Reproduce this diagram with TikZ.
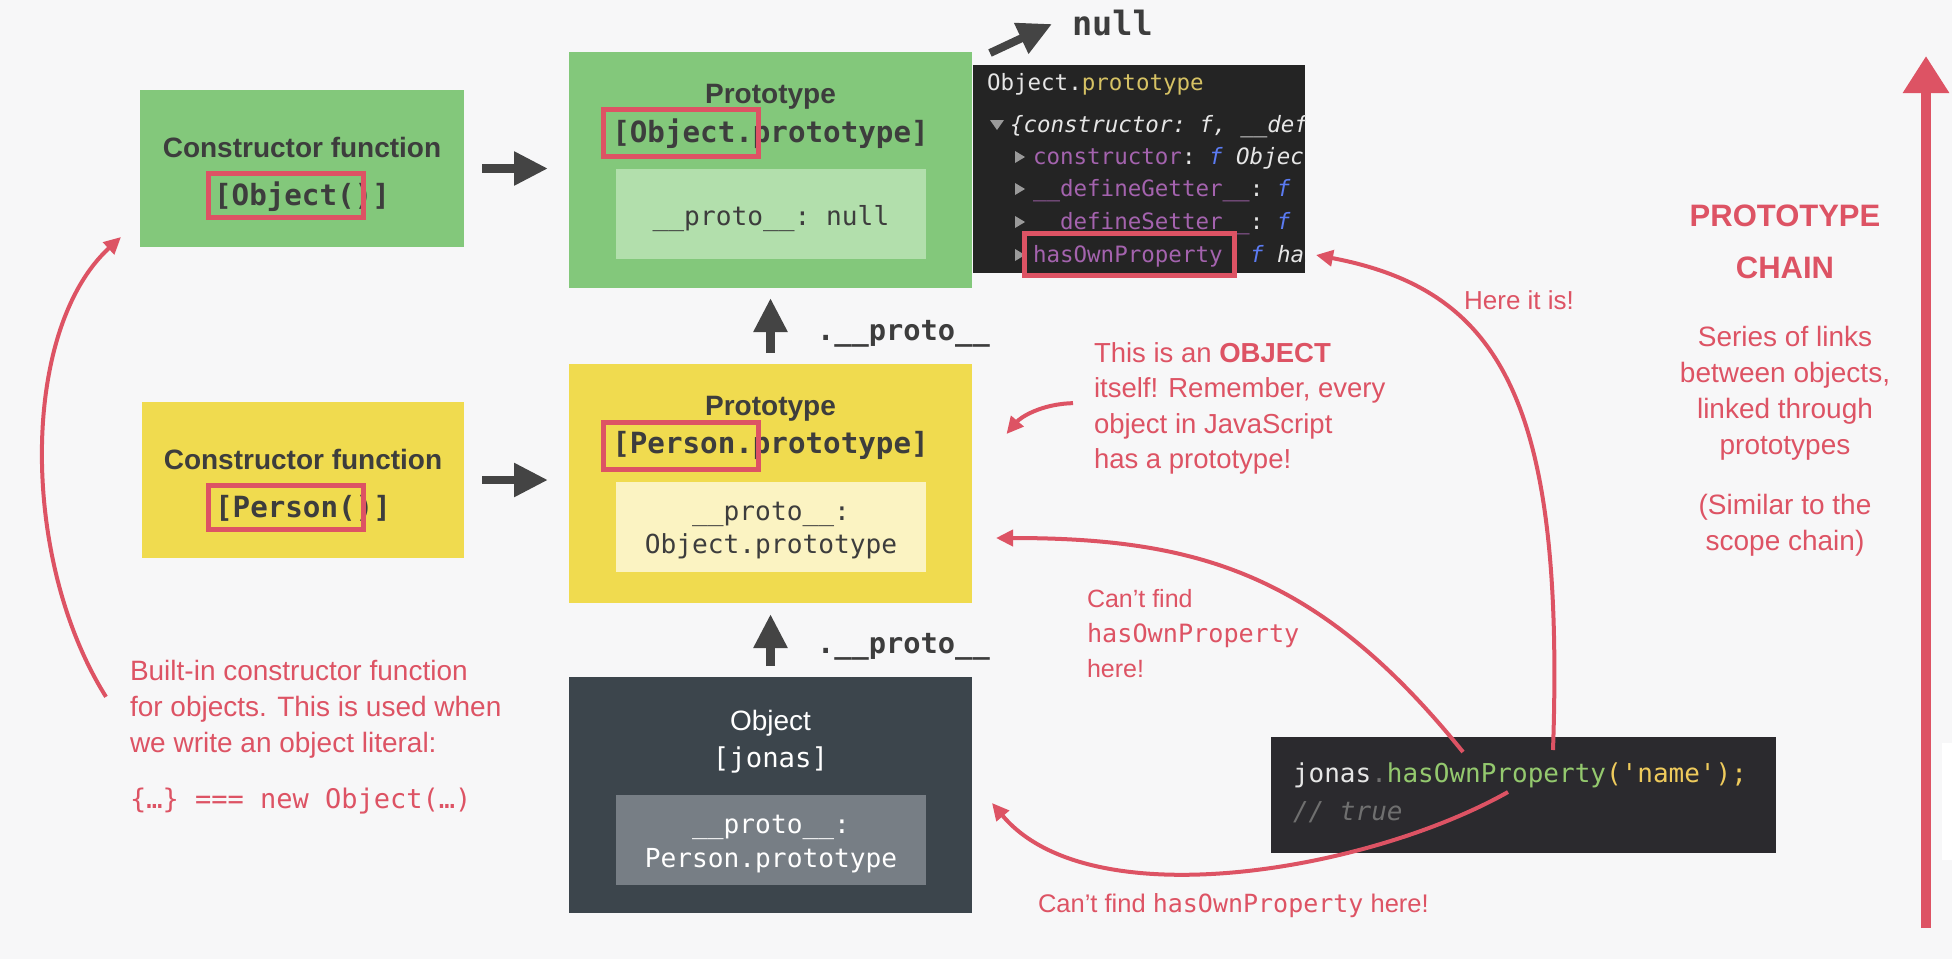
\documentclass[tikz,border=0pt]{standalone}
\usepackage{fontspec}
\setmainfont{Liberation Sans}
\setmonofont{DejaVu Sans Mono}
\usetikzlibrary{arrows.meta}
\definecolor{bg}{HTML}{F7F7F8}
\definecolor{jgreen}{HTML}{83C87B}
\definecolor{jgreenlt}{HTML}{B2DFAC}
\definecolor{jyellow}{HTML}{F0DB4F}
\definecolor{jyellowlt}{HTML}{FBF3C2}
\definecolor{jdark}{HTML}{3C454C}
\definecolor{jdarklt}{HTML}{777E85}
\definecolor{ink}{HTML}{3D3D3D}
\definecolor{jred}{HTML}{DD5364}
\definecolor{agrey}{HTML}{444444}
\definecolor{conbg}{HTML}{242424}
\definecolor{codebg}{HTML}{2B2A2E}
\definecolor{conwhite}{HTML}{E6E6E6}
\definecolor{conyellow}{HTML}{D6C264}
\definecolor{conpurple}{HTML}{A463AE}
\definecolor{conblue}{HTML}{5B7BF2}
\definecolor{contri}{HTML}{9A9A9A}
\definecolor{codegreen}{HTML}{94C96E}
\definecolor{codeyellow}{HTML}{EFCB5C}
\definecolor{codegrey}{HTML}{6F6F6F}
\tikzset{
  panel/.style={inner sep=0pt, outer sep=0pt, draw=none},
  lbl/.style={inner sep=0pt, outer sep=0pt, anchor=base},
  ttl/.style={lbl, text=ink, font=\fontsize{28}{34}\selectfont\bfseries},
  boxcode/.style={lbl, text=ink, font=\fontsize{29.2}{35}\selectfont\ttfamily\bfseries},
  innercode/.style={lbl, text=ink, font=\fontsize{26.2}{32}\selectfont\ttfamily},
  protolbl/.style={lbl, anchor=base west, text=ink, font=\fontsize{28.7}{34}\selectfont\ttfamily\bfseries},
  hl/.style={draw=jred, line width=5pt},
  darrow/.style={draw=agrey, line width=8.5pt, -{Triangle[length=34pt,width=32pt]}},
  rarrow/.style={draw=jred, line width=4pt, -{Triangle[length=17pt,width=16pt]}},
  ann/.style={inner sep=0pt, outer sep=0pt, text=jred, align=left},
  con/.style={inner sep=0pt, outer sep=0pt, anchor=base west, text=conwhite, font=\fontsize{22.5}{27}\selectfont\ttfamily},
  tri/.style={fill=contri},
}
\begin{document}
\begin{tikzpicture}[x=1pt,y=-1pt]
\fill[bg] (0,0) rectangle (1952,959);
\useasboundingbox (0,0) rectangle (1952,959);

% constructor Object
\node[panel, fill=jgreen, minimum width=324pt, minimum height=157pt] (cobj) at (302,168.5) {};
\node[ttl] (cobjt) at (302,157) {Constructor function};
\node[boxcode] (cobjc) at (302,205) {[Object()]};
\draw[hl] (208,173) rectangle (363,217);

% Object.prototype
\node[panel, fill=jgreen, minimum width=403pt, minimum height=236pt] (pobj) at (770.5,170) {};
\node[ttl] (pobjt) at (770.5,103) {Prototype};
\node[boxcode] (pobjc) at (770.5,142) {[Object.prototype]};
\node[panel, fill=jgreenlt, minimum width=310pt, minimum height=90pt] (pobjin) at (771,214) {};
\node[innercode] (pobjint) at (771,225) {\_\_proto\_\_: null};
\draw[hl] (603,109) rectangle (758,156);

% constructor Person
\node[panel, fill=jyellow, minimum width=322pt, minimum height=156pt] (cper) at (303,480) {};
\node[ttl] (cpert) at (303,469) {Constructor function};
\node[boxcode] (cperc) at (303,517) {[Person()]};
\draw[hl] (208,485) rectangle (363,529);

% Person.prototype
\node[panel, fill=jyellow, minimum width=403pt, minimum height=239pt] (pper) at (770.5,483.5) {};
\node[ttl] (ppert) at (770.5,415) {Prototype};
\node[boxcode] (pperc) at (770.5,453) {[Person.prototype]};
\node[panel, fill=jyellowlt, minimum width=310pt, minimum height=90pt] (pperin) at (771,527) {};
\node[innercode] (pperin1) at (771,520) {\_\_proto\_\_:};
\node[innercode] (pperin2) at (771,553) {Object.prototype};
\draw[hl] (603,422) rectangle (758,469);

% jonas
\node[panel, fill=jdark, minimum width=403pt, minimum height=236pt] (jonas) at (770.5,795) {};
\node[lbl, text=white, font=\fontsize{28}{34}\selectfont] (jonast) at (770.5,730) {Object};
\node[lbl, text=white, font=\fontsize{27.3}{34}\selectfont\ttfamily] (jonasc) at (770.5,767) {[jonas]};
\node[panel, fill=jdarklt, minimum width=310pt, minimum height=90pt] (jonasin) at (771,840) {};
\node[innercode, text=white] (jonasin1) at (771,833) {\_\_proto\_\_:};
\node[innercode, text=white] (jonasin2) at (771,867) {Person.prototype};

% dark arrows
\draw[darrow, shorten <=18pt, shorten >=21pt] (cobj.east) -- (cobj.east -| pobj.west);
\draw[darrow, shorten <=18pt, shorten >=21pt] (cper.east) -- (cper.east -| pper.west);
\draw[darrow, shorten <=11pt, shorten >=10pt] (pper.north) -- (pobj.south);
\draw[darrow, shorten <=11pt, shorten >=11pt] (jonas.north) -- (pper.south);
\node[protolbl] (pl1) at (817,340) {.\_\_proto\_\_};
\node[protolbl] (pl2) at (817,653) {.\_\_proto\_\_};

% null
\node[lbl, anchor=base west, text=ink, font=\fontsize{33.5}{40}\selectfont\ttfamily\bfseries] (nulllbl) at (1072,35) {null};
\draw[darrow, line width=8pt] ([shift={(18,1)}]pobj.north east) -- ([shift={(-20,-11)}]nulllbl.base west);

% console
\node[panel, fill=conbg, minimum width=332pt, minimum height=208pt] (console) at (1139,169) {};
\begin{scope}
\clip (973,65) rectangle (1305,273);
\node[con] (con1) at (987,90) {Object.\textcolor{conyellow}{prototype}};
\fill[tri] (990,120) -- (1004,120) -- (997,130) -- cycle;
\node[con, font=\fontsize{22.5}{27}\selectfont\ttfamily\itshape] (con2) at (1010,132) {\{constructor: f, \_\_defineGetter\_\_: f\}};
\fill[tri] (1015,151) -- (1025,157) -- (1015,163) -- cycle;
\node[con] (con3) at (1033,164) {\textcolor{conpurple}{constructor}: \textcolor{conblue}{\itshape f} {\itshape Object()}};
\fill[tri] (1015,183) -- (1025,189) -- (1015,195) -- cycle;
\node[con] (con4) at (1033,196) {\textcolor{conpurple}{\_\_defineGetter\_\_}: \textcolor{conblue}{\itshape f}};
\fill[tri] (1015,216) -- (1025,222) -- (1015,228) -- cycle;
\node[con] (con5) at (1033,229) {\textcolor{conpurple}{\_\_defineSetter\_\_}: \textcolor{conblue}{\itshape f}};
\fill[tri] (1015,249) -- (1025,255) -- (1015,261) -- cycle;
\node[con] (con6) at (1033,262) {\textcolor{conpurple}{hasOwnProperty}};
\node[con, font=\fontsize{22.5}{27}\selectfont\ttfamily\itshape] (con6b) at (1250,262) {\textcolor{conblue}{f} hasOwnProperty()};
\end{scope}
\draw[hl] (1024,233) rectangle (1234,275);

% code box
\node[panel, fill=codebg, minimum width=505pt, minimum height=116pt] (code) at (1523.5,795) {};
\node[lbl, anchor=base west, text=conwhite, font=\fontsize{26}{32}\selectfont\ttfamily] (codel1) at (1293,782) {jonas\textcolor{codegrey}{.}\textcolor{codegreen}{hasOwnProperty}\textcolor{codeyellow}{('name');}};
\node[lbl, anchor=base west, text=codegrey, font=\fontsize{26}{32}\selectfont\ttfamily\itshape] (codel2) at (1293,820) {// true};

% annotations
\node[ann, anchor=north west, font=\fontsize{27.5}{35.5}\selectfont] (objnote) at (1094,337.15) {\strut This is an \textbf{OBJECT}\\\strut itself! Remember, every\\\strut object in JavaScript\\\strut has a prototype!};
\node[ann, anchor=north west, font=\fontsize{25}{35}\selectfont] (cantA) at (1087,582.5) {\strut Can’t find\\\strut{\ttfamily\fontsize{25.2}{35}\selectfont hasOwnProperty}\\\strut here!};
\node[ann, anchor=north west, font=\fontsize{28}{36}\selectfont] (builtin) at (130,654.8) {\strut Built-in constructor function\\\strut for objects. This is used when\\\strut we write an object literal:};
\node[lbl, anchor=base west, text=jred, font=\fontsize{27}{32}\selectfont\ttfamily] (literal) at (130,808) {\{…\} === new Object(…)};
\node[lbl, anchor=base west, text=jred, font=\fontsize{25.5}{30}\selectfont] (cantB) at (1038,912) {Can’t find {\ttfamily\fontsize{25}{30}\selectfont hasOwnProperty} here!};
\node[lbl, text=jred, font=\fontsize{26}{30}\selectfont] (here) at (1519,309) {Here it is!};

% right column
\node[lbl, text=jred, font=\fontsize{31}{36}\selectfont\bfseries] (pc1) at (1785,226) {PROTOTYPE};
\node[lbl, text=jred, font=\fontsize{31}{36}\selectfont\bfseries] (pc2) at (1785,278) {CHAIN};
\node[ann, align=center, anchor=north, font=\fontsize{28}{36}\selectfont] (series) at (1785,320.8) {\strut Series of links\\\strut between objects,\\\strut linked through\\\strut prototypes};
\node[ann, align=center, anchor=north, font=\fontsize{28}{36}\selectfont] (similar) at (1785,488.8) {\strut (Similar to the\\\strut scope chain)};
\coordinate (chainbot) at (1926,928);
\coordinate (chaintop) at (1926,56);
\draw[jred, line width=10pt, -{Triangle[length=37pt,width=44pt]}] (chainbot) -- (chaintop);
\fill[white] (1942,743) rectangle (1952,860);

% red curved connectors
\draw[rarrow] ([shift={(29.5,-45)}]code.center) .. controls (1565,400) and (1500,290) .. ([shift={(11,-18)}]console.south east);
\draw[rarrow] ([shift={(-60.5,-43)}]code.center) .. controls (1320,575) and (1200,538) .. ([shift={(24,54.5)}]pper.east);
\draw[rarrow] ([shift={(-15.5,-3)}]code.center) .. controls (1370,870) and (1090,920) .. ([shift={(20,8)}]jonas.east);
\draw[rarrow] ([shift={(-21,66)}]objnote.north west) .. controls (1040,404) and (1020,418) .. ([shift={(34.5,-49.5)}]pper.east);
\draw[rarrow] ([shift={(-24,42)}]builtin.north west) .. controls (20,560) and (20,330) .. ([shift={(-19,-10)}]cobj.south west);
\end{tikzpicture}
\end{document}
